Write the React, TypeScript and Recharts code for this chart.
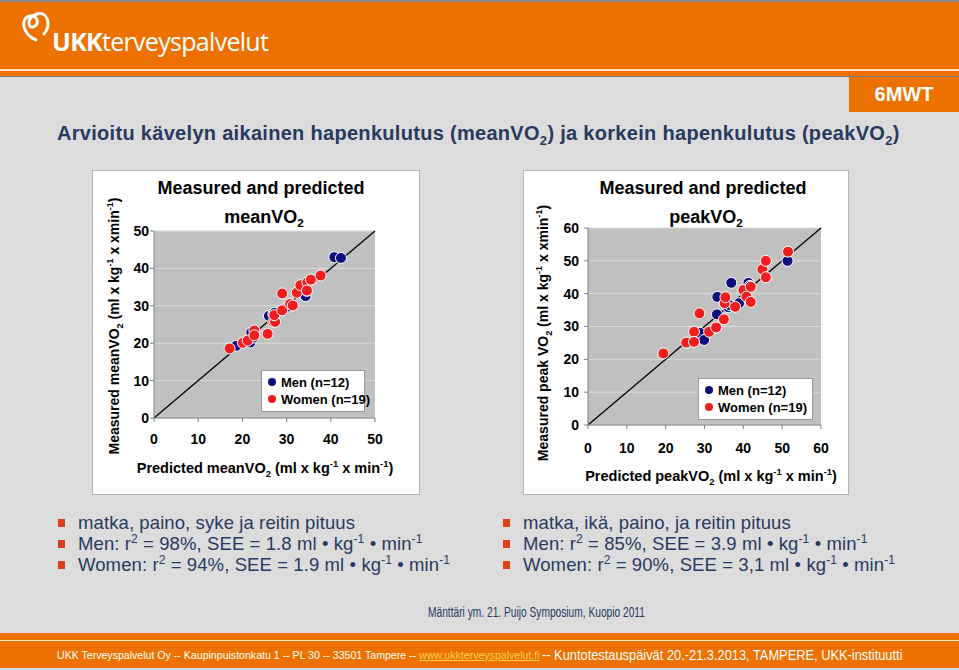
import React from 'react';
import { ScatterChart, Scatter, XAxis, YAxis, CartesianGrid, ReferenceLine, Legend } from 'recharts';

const meanTicks = [0, 10, 20, 30, 40, 50];
const peakTicks = [0, 10, 20, 30, 40, 50, 60];

const meanMen = [
  [18.6, 19.3], [21.8, 20.2], [22.0, 22.8], [22.5, 21.5], [26.0, 27.3], [27.0, 27.8],
  [27.3, 28.1], [30.3, 29.8], [34.3, 32.6], [34.6, 34.0], [40.8, 43.0], [42.3, 42.8],
];
const meanWomen = [
  [17.1, 18.6], [20.1, 20.1], [21.2, 20.7], [22.7, 23.4], [22.7, 22.1], [25.7, 22.5],
  [27.0, 25.7], [27.4, 25.7], [27.2, 27.5], [29.0, 33.3], [29.0, 28.8], [30.8, 30.5],
  [31.4, 30.1], [32.3, 33.5], [33.1, 35.5], [34.7, 36.3], [35.5, 37.0], [34.6, 34.1],
  [37.7, 38.1],
];
const peakMen = [
  [25.6, 25.1], [28.8, 28.1], [29.9, 25.9], [33.2, 33.7], [33.3, 39.0], [36.1, 35.9],
  [36.5, 36.5], [36.9, 43.3], [38.9, 37.1], [41.3, 43.3], [41.7, 42.4], [51.4, 50.0],
];
const peakWomen = [
  [19.4, 21.8], [25.3, 25.1], [27.3, 28.4], [27.3, 25.3], [28.7, 34.0], [31.2, 28.4],
  [33.0, 29.7], [35.0, 32.2], [35.2, 37.1], [35.4, 38.9], [37.9, 36.0], [40.0, 41.1],
  [40.8, 39.1], [41.9, 42.1], [41.9, 37.5], [44.9, 47.4], [45.8, 50.0], [45.8, 45.0],
  [51.5, 52.8],
];

const leftBullets = [
  ['matka, paino, syke ja reitin pituus'],
  ['Men: r', '2', ' = 98%, SEE = 1.8 ml \u2022 kg', '-1', ' \u2022 min', '-1'],
  ['Women: r', '2', ' = 94%, SEE = 1.9 ml \u2022 kg', '-1', ' \u2022 min', '-1'],
];
const rightBullets = [
  ['matka, ik\u00e4, paino, ja reitin pituus'],
  ['Men: r', '2', ' = 85%, SEE = 3.9 ml \u2022 kg', '-1', ' \u2022 min', '-1'],
  ['Women: r', '2', ' = 90%, SEE = 3,1 ml \u2022 kg', '-1', ' \u2022 min', '-1'],
];

const MEN = '#0d0d7d';
const WOMEN = '#f01e1e';
const NAVY = '#283a60';
const ORANGE = '#ec7100';
const FONT = '"Liberation Sans", Arial, sans-serif';

const toPts = (arr: number[][]) => arr.map(([x, y]) => ({ x, y }));

const dot = (color: string) => (props: any) => (
  <circle cx={props.cx} cy={props.cy} r={5.5} fill={color} stroke="#ffffff" strokeWidth={1} />
);

const sub = { fontSize: '0.65em', verticalAlign: 'sub', lineHeight: 0 } as React.CSSProperties;
const sup = { fontSize: '0.65em', verticalAlign: 'super', lineHeight: 0 } as React.CSSProperties;

const tickStyle = { fontSize: 14, fontWeight: 'bold', fill: '#000', fontFamily: FONT };

const legendContent = (props: any) => (
  <div
    style={{
      background: '#fff',
      border: '1px solid #9a9a9a',
      padding: '3px 6px',
      fontFamily: FONT,
      fontSize: 13,
      fontWeight: 'bold',
      lineHeight: '17px',
    }}
  >
    {(props.payload || []).map((p: any) => (
      <div key={p.value} style={{ whiteSpace: 'nowrap' }}>
        <span
          style={{
            display: 'inline-block',
            width: 8,
            height: 8,
            borderRadius: 4,
            background: p.color,
            marginRight: 5,
            verticalAlign: 1,
          }}
        />
        {p.value}
      </div>
    ))}
  </div>
);

const Centered = ({ x, y, children, style }: any) => (
  <div
    style={{
      position: 'absolute',
      left: x,
      top: y,
      transform: 'translate(-50%, -50%)',
      whiteSpace: 'nowrap',
      ...style,
    }}
  >
    {children}
  </div>
);

interface PanelProps {
  left: number;
  width: number;
  max: number;
  ticks: number[];
  men: number[][];
  women: number[][];
  margin: { top: number; right: number; bottom: number; left: number };
  tickMarginX: number;
  tickMarginY: number;
  name: string;
  yName: string;
  titleX: number;
  yLabelX: number;
  yLabelY: number;
  xLabelX: number;
  xLabelY: number;
  legendPos: { left: number; top: number; width: number };
}

const Panel = (p: PanelProps) => (
  <div
    style={{
      position: 'absolute',
      left: p.left,
      top: 170,
      width: p.width,
      height: 325,
      background: '#fff',
      border: '1px solid #b4b4b4',
      boxSizing: 'border-box',
      fontFamily: FONT,
    }}
  >
    <ScatterChart width={p.width - 2} height={323} margin={p.margin}>
      <CartesianGrid vertical={false} fill="#c0c0c0" stroke="#d9d9d9" horizontalValues={p.ticks} />
      <XAxis
        type="number"
        dataKey="x"
        domain={[0, p.max]}
        ticks={p.ticks}
        allowDataOverflow
        stroke="#808080"
        tickSize={4}
        tickMargin={p.tickMarginX}
        tick={tickStyle}
        height={30}
      />
      <YAxis
        type="number"
        dataKey="y"
        domain={[0, p.max]}
        ticks={p.ticks}
        allowDataOverflow
        stroke="#808080"
        tickSize={4}
        tickMargin={p.tickMarginY}
        tick={tickStyle}
        width={40}
      />
      <Scatter name="Men (n=12)" data={toPts(p.men)} fill={MEN} shape={dot(MEN)} isAnimationActive={false} />
      <Scatter name="Women (n=19)" data={toPts(p.women)} fill={WOMEN} shape={dot(WOMEN)} isAnimationActive={false} />
      <ReferenceLine
        segment={[{ x: 0, y: 0 }, { x: p.max, y: p.max }]}
        stroke="#000"
        strokeWidth={1.3}
      />
      <Legend
        layout="vertical"
        align="center"
        verticalAlign="middle"
        content={legendContent}
        wrapperStyle={{ ...p.legendPos }}
      />
    </ScatterChart>
    <Centered x={p.titleX} y={17} style={{ fontSize: 18, fontWeight: 'bold' }}>
      Measured and predicted
    </Centered>
    <Centered x={p.titleX + 3} y={46} style={{ fontSize: 18, fontWeight: 'bold' }}>
      {p.name}VO<span style={sub}>2</span>
    </Centered>
    <Centered
      x={p.yLabelX}
      y={p.yLabelY}
      style={{ fontSize: 14, fontWeight: 'bold', transform: 'translate(-50%, -50%) rotate(-90deg)' }}
    >
      Measured {p.yName}VO<span style={sub}>2</span> (ml x kg<span style={sup}>-1</span> x xmin
      <span style={sup}>-1</span>)
    </Centered>
    <Centered x={p.xLabelX} y={p.xLabelY} style={{ fontSize: 14.5, fontWeight: 'bold' }}>
      Predicted {p.name}VO<span style={sub}>2</span> (ml x kg<span style={sup}>-1</span> x min
      <span style={sup}>-1</span>)
    </Centered>
  </div>
);

const Bullets = ({ x, lines }: { x: number; lines: string[][] }) => (
  <>
    {lines.map((parts, i) => (
      <div key={i} style={{ position: 'absolute', left: x - 20, top: 512 + i * 21, height: 21, whiteSpace: 'nowrap' }}>
        <span
          style={{
            position: 'absolute',
            left: 0,
            top: 7,
            width: 7,
            height: 8,
            background: '#d8401a',
          }}
        />
        <span
          style={{
            position: 'absolute',
            left: 20,
            top: 0,
            fontFamily: FONT,
            fontSize: 18.5,
            letterSpacing: 0.1,
            color: NAVY,
            lineHeight: '21px',
          }}
        >
          {parts.map((t, j) => (j % 2 === 1 ? <span key={j} style={sup}>{t}</span> : <span key={j}>{t}</span>))}
        </span>
      </div>
    ))}
  </>
);

export default function App() {
  return (
    <div
      style={{
        position: 'absolute',
        left: 0,
        top: 0,
        width: 959,
        height: 670,
        background: '#dcdcdc',
        overflow: 'hidden',
        fontFamily: FONT,
      }}
    >
      {/* header */}
      <div style={{ position: 'absolute', left: 0, top: 0, width: 959, height: 77, background: ORANGE, borderTop: '2px solid #8a8a8a', boxSizing: 'border-box' }} />
      <div style={{ position: 'absolute', left: 0, top: 69, width: 959, height: 2, background: '#fbe3c8' }} />
      <div style={{ position: 'absolute', left: 0, top: 76, width: 959, height: 1, background: '#7a7a7a' }} />
      <svg style={{ position: 'absolute', left: 16, top: 10 }} width={38} height={32}>
        <path
          d="M20 30 C6 24 4 8 14 6 C22 4 24 16 17 17 C11 18 11 7 21 4 C31 1 36 14 28 24"
          stroke="#fff"
          strokeWidth={3}
          fill="none"
          strokeLinecap="round"
        />
      </svg>
      <div style={{ position: 'absolute', left: 52, top: 26, color: '#fff', fontFamily: '"Open Sans", sans-serif', fontSize: 25, lineHeight: '30px', letterSpacing: -0.7 }}>
        <span style={{ fontWeight: 700 }}>UKK</span>terveyspalvelut
      </div>

      {/* tab */}
      <div style={{ position: 'absolute', left: 849, top: 77, width: 110, height: 35, background: ORANGE, color: '#fff', fontSize: 20, fontWeight: 'bold', lineHeight: '35px', textAlign: 'center' }}>
        6MWT
      </div>

      {/* title */}
      <div style={{ position: 'absolute', left: 57, top: 119, color: NAVY, fontSize: 20, fontWeight: 'bold', letterSpacing: 0.3, whiteSpace: 'nowrap', lineHeight: '28px' }}>
        Arvioitu k{'\u00e4'}velyn aikainen hapenkulutus (meanVO<span style={sub}>2</span>) ja korkein hapenkulutus (peakVO<span style={sub}>2</span>)
      </div>

      <Panel
        left={92}
        width={328}
        max={50}
        ticks={meanTicks}
        men={meanMen}
        women={meanWomen}
        margin={{ top: 60, right: 44, bottom: 46, left: 21 }}
        tickMarginX={12}
        tickMarginY={1}
        name="mean"
        yName="mean"
        titleX={168}
        yLabelX={21}
        yLabelY={155}
        xLabelX={172}
        xLabelY={297}
        legendPos={{ left: 168, top: 199, width: 104 }}
      />
      <Panel
        left={523}
        width={326}
        max={60}
        ticks={peakTicks}
        men={peakMen}
        women={peakWomen}
        margin={{ top: 57, right: 27, bottom: 39, left: 24 }}
        tickMarginX={14}
        tickMarginY={5}
        name="peak"
        yName="peak "
        titleX={179}
        yLabelX={19}
        yLabelY={162}
        xLabelX={187}
        xLabelY={305}
        legendPos={{ left: 174, top: 207, width: 115 }}
      />

      <Bullets x={78} lines={leftBullets} />
      <Bullets x={523} lines={rightBullets} />

      <div style={{ position: 'absolute', left: 428, top: 603, fontSize: 15, color: NAVY, whiteSpace: 'nowrap', transform: 'scaleX(0.68)', transformOrigin: 'left center' }}>
        M{'\u00e4'}ntt{'\u00e4'}ri ym. 21. Puijo Symposium, Kuopio 2011
      </div>

      {/* footer */}
      <div style={{ position: 'absolute', left: 0, top: 633, width: 959, height: 35, background: ORANGE }} />
      <div style={{ position: 'absolute', left: 0, top: 640, width: 959, height: 1, background: '#fbe3c8' }} />
      <div style={{ position: 'absolute', left: 57, top: 647, color: '#fff', whiteSpace: 'nowrap', lineHeight: '16px', fontSize: 11.5, transform: 'scaleX(0.92)', transformOrigin: 'left center' }}>
        UKK Terveyspalvelut Oy -- Kaupinpuistonkatu 1 -- PL 30 -- 33501 Tampere --{' '}
        <span style={{ color: '#f7d44a', textDecoration: 'underline' }}>www.ukkterveyspalvelut.fi</span>
      </div>
      <div style={{ position: 'absolute', left: 542, top: 646, color: '#fff', whiteSpace: 'nowrap', lineHeight: '18px', fontSize: 14.5, transform: 'scaleX(0.885)', transformOrigin: 'left center' }}>
        -- Kuntotestausp{'\u00e4'}iv{'\u00e4'}t 20.-21.3.2013, TAMPERE, UKK-instituutti
      </div>
    </div>
  );
}
